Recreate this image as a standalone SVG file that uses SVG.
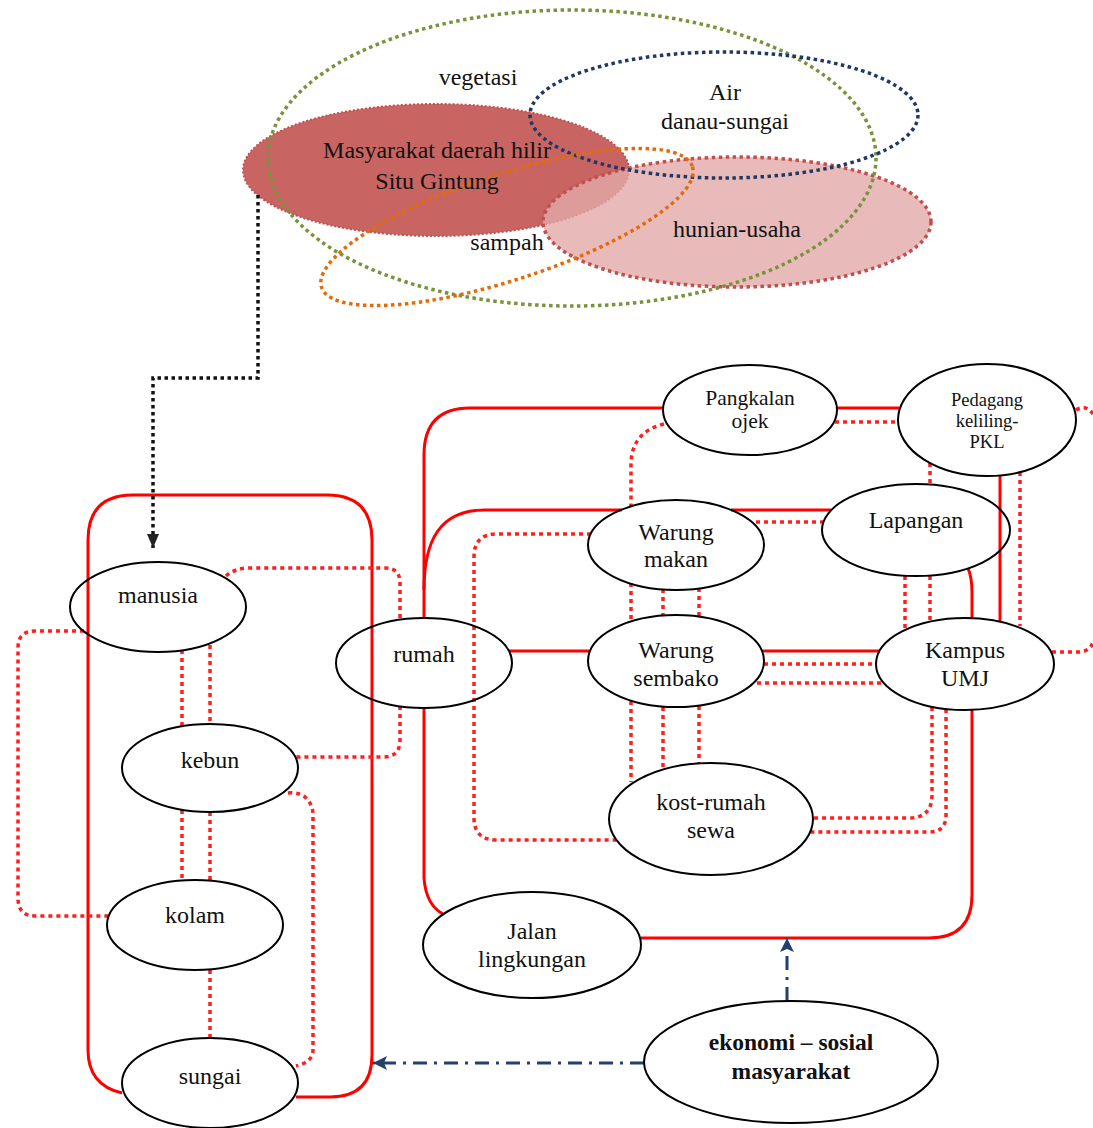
<svg xmlns="http://www.w3.org/2000/svg" width="1093" height="1128" viewBox="0 0 1093 1128">
<style>
text{font-family:"Liberation Serif","Times New Roman",serif;fill:#111;text-anchor:middle}
.t{font-size:24px}
.s{font-size:21.5px}
.xs{font-size:18.5px}
.b{font-size:23.5px;font-weight:bold}
.node{fill:none;stroke:#000;stroke-width:2}
.solid{fill:none;stroke:#f00;stroke-width:3}
.dot{fill:none;stroke:#ff1f1f;stroke-width:3.5;stroke-dasharray:4 4}
.blk{fill:none;stroke:#111;stroke-width:3.5;stroke-dasharray:3.5 3.5}
.blue{fill:none;stroke:#24406e;stroke-width:3;stroke-dasharray:14 7 3 7}
</style>
<defs>
<marker id="ab" markerUnits="userSpaceOnUse" markerWidth="16" markerHeight="16" refX="14" refY="8" orient="auto">
<path d="M0,1 L14,8 L0,15 L3,8 Z" fill="#24406e"/>
</marker>
<marker id="ak" markerUnits="userSpaceOnUse" markerWidth="16" markerHeight="16" refX="14" refY="8" orient="auto">
<path d="M0,2 L14,8 L0,14 Z" fill="#222"/>
</marker>
</defs>
<rect width="1093" height="1128" fill="#fff"/>

<g id="venn">
<ellipse cx="436" cy="170" rx="193" ry="66" fill="#c0504d" fill-opacity="0.88" stroke="#c0504d" stroke-width="2" stroke-dasharray="2 2"/>
<ellipse cx="737" cy="222" rx="194" ry="65" fill="#e2a9a7" fill-opacity="0.8" stroke="#c0504d" stroke-width="3.5" stroke-dasharray="3.5 3.5"/>
<ellipse cx="572" cy="158" rx="304" ry="148" fill="none" stroke="#77933c" stroke-width="3.5" stroke-dasharray="3.5 3.5"/>
<ellipse cx="724" cy="115" rx="194" ry="63" fill="none" stroke="#1f3864" stroke-width="3.5" stroke-dasharray="3.5 3.5"/>
<ellipse cx="507" cy="227" rx="195" ry="53" transform="rotate(-18 507 227)" fill="none" stroke="#e36c09" stroke-width="3.5" stroke-dasharray="3.5 3.5"/>
<text class="t" x="478" y="85">vegetasi</text>
<text class="t" x="725" y="100">Air</text>
<text class="t" x="725" y="129">danau-sungai</text>
<text class="t" x="437" y="158">Masyarakat daerah hilir</text>
<text class="t" x="437" y="189">Situ Gintung</text>
<text class="t" x="507" y="250">sampah</text>
<text class="t" x="737" y="237">hunian-usaha</text>
</g>

<g id="connectors">
<path class="solid" d="M122,1093 C100,1088 88,1075 88,1050 L88,540 Q88,495 133,495 L327,495 Q372,495 372,540 L372,1055 Q372,1097 330,1097 L296,1097"/>
<path class="solid" d="M424,618 L424,455 Q424,408 470,408 L663,408"/>
<path class="solid" d="M837,408 L899,408"/>
<path class="solid" d="M424,590 C424,540 440,510 485,510 L622,510"/>
<path class="solid" d="M731,510 L831,510"/>
<path class="solid" d="M1000,475 L1000,622"/>
<path class="solid" d="M968,568 Q972,578 972,592 L972,618"/>
<path class="solid" d="M972,709 L972,895 Q972,938 929,938 L641,938"/>
<path class="solid" d="M424,708 L424,878 Q426,905 443,914"/>
<path class="solid" d="M509,651 L589,651"/>
<path class="solid" d="M763,651 L880,651"/>

<path class="dot" d="M226,576 Q235,568 250,568 L385,568 Q400,568 400,583 L400,620"/>
<path class="dot" d="M400,706 L400,740 Q400,757 383,757 L296,757"/>
<path class="dot" d="M84,631 L35,631 Q18,631 18,648 L18,898 Q18,916 35,916 L109,916"/>
<path class="dot" d="M182,650 L182,726 M210,645 L210,724"/>
<path class="dot" d="M182,810 L182,881 M210,812 L210,881"/>
<path class="dot" d="M210,970 L210,1038"/>
<path class="dot" d="M288,793 Q300,792 306,798 Q313,805 313,815 L313,1050 Q313,1062 296,1066"/>
<path class="dot" d="M664,424 Q631,432 631,465 L631,507"/>
<path class="dot" d="M631,583 L631,621 M663,589 L663,615 M699,588 L699,616"/>
<path class="dot" d="M631,701 L631,782 M663,707 L663,770 M699,706 L699,764"/>
<path class="dot" d="M835,422 L898,422"/>
<path class="dot" d="M756,522 L824,522"/>
<path class="dot" d="M591,534 L497,534 Q474,534 474,557 L474,818 Q474,840 497,840 L616,840"/>
<path class="dot" d="M764,664 L876,664 M757,683 L884,683"/>
<path class="dot" d="M930,463 L930,485"/>
<path class="dot" d="M905,576 L905,630 M930,576 L930,622"/>
<path class="dot" d="M1020,472 L1020,626"/>
<path class="dot" d="M932,707 L932,795 Q932,818 909,818 L813,818"/>
<path class="dot" d="M946,709 L946,815 Q946,832 929,832 L810,832"/>
<path class="dot" d="M1052,652 L1078,652 Q1090,652 1093,642"/>
<path class="dot" d="M1076,410 Q1086,404 1093,414"/>

<path class="blk" d="M258,195 L258,378 L153,378 L153,548" marker-end="url(#ak)"/>
<path class="blue" d="M644,1063 L373,1063" marker-end="url(#ab)"/>
<path class="blue" d="M787,1001 L787,938" marker-end="url(#ab)"/>
</g>

<g id="manusia"><ellipse class="node" cx="158" cy="607" rx="88" ry="45"/><text class="t" x="158" y="603">manusia</text></g>
<g id="kebun"><ellipse class="node" cx="210" cy="768" rx="88" ry="44"/><text class="t" x="210" y="768">kebun</text></g>
<g id="kolam"><ellipse class="node" cx="195" cy="925" rx="88" ry="45"/><text class="t" x="195" y="923">kolam</text></g>
<g id="sungai"><ellipse class="node" cx="210" cy="1083" rx="88" ry="45"/><text class="t" x="210" y="1084">sungai</text></g>
<g id="rumah"><ellipse class="node" cx="424" cy="663" rx="88" ry="45"/><text class="t" x="424" y="662">rumah</text></g>
<g id="pangkalan"><ellipse class="node" cx="750" cy="410" rx="87" ry="45"/><text class="s" x="750" y="405">Pangkalan</text><text class="s" x="750" y="428">ojek</text></g>
<g id="pkl"><ellipse class="node" cx="987" cy="420" rx="89" ry="56"/><text class="xs" x="987" y="406">Pedagang</text><text class="xs" x="987" y="427">keliling-</text><text class="xs" x="987" y="448">PKL</text></g>
<g id="warung-makan"><ellipse class="node" cx="676" cy="545" rx="88" ry="45"/><text class="t" x="676" y="540">Warung</text><text class="t" x="676" y="567">makan</text></g>
<g id="lapangan"><ellipse class="node" cx="916" cy="530" rx="94" ry="46"/><text class="t" x="916" y="528">Lapangan</text></g>
<g id="warung-sembako"><ellipse class="node" cx="676" cy="661" rx="88" ry="46"/><text class="t" x="676" y="658">Warung</text><text class="t" x="676" y="686">sembako</text></g>
<g id="kampus"><ellipse class="node" cx="965" cy="664" rx="89" ry="46"/><text class="t" x="965" y="658">Kampus</text><text class="t" x="965" y="686">UMJ</text></g>
<g id="kost"><ellipse class="node" cx="711" cy="819" rx="102" ry="56"/><text class="t" x="711" y="810">kost-rumah</text><text class="t" x="711" y="838">sewa</text></g>
<g id="jalan"><ellipse class="node" cx="532" cy="945" rx="109" ry="53"/><text class="t" x="532" y="939">Jalan</text><text class="t" x="532" y="967">lingkungan</text></g>
<g id="ekonomi"><ellipse class="node" cx="791" cy="1062" rx="147" ry="61" stroke-width="3.5"/><text class="b" x="791" y="1050">ekonomi – sosial</text><text class="b" x="791" y="1079">masyarakat</text></g>
</svg>
